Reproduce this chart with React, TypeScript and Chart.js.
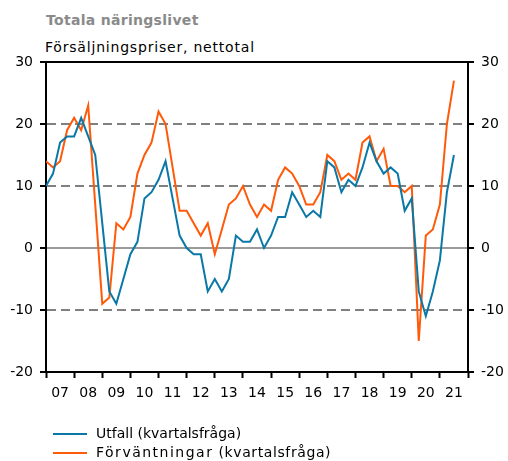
import React, { useEffect, useRef } from 'react';
import { Chart, registerables } from 'chart.js';

Chart.register(...registerables);

// Year tick labels (2007–2021); data are quarterly, starting 2007 Q1 (x = quarter index)
const yearLabels = ['07', '08', '09', '10', '11', '12', '13', '14', '15', '16', '17', '18', '19', '20', '21'];

// Utfall (kvartalsfråga), 2007Q1 .. 2021Q3
const utfall = [
  10, 12, 17, 18, 18, 21, 18, 15,
  4, -7, -9, -5, -1, 1, 8, 9,
  11, 14, 8, 2, 0, -1, -1, -7,
  -5, -7, -5, 2, 1, 1, 3, 0,
  2, 5, 5, 9, 7, 5, 6, 5,
  14, 13, 9, 11, 10, 13, 17, 14,
  12, 13, 12, 6, 8, -7, -11, -7,
  -2, 9, 15,
];

// Förväntningar (kvartalsfråga), 2007Q1 .. 2021Q3
const forvantningar = [
  14, 13, 14, 19, 21, 19, 23, 7,
  -9, -8, 4, 3, 5, 12, 15, 17,
  22, 20, 13, 6, 6, 4, 2, 4,
  -1, 3, 7, 8, 10, 7, 5, 7,
  6, 11, 13, 12, 10, 7, 7, 9,
  15, 14, 11, 12, 11, 17, 18, 14,
  16, 10, 10, 9, 10, -15, 2, 3,
  7, 20, 27,
];

const yTicks = [-20, -10, 0, 10, 20, 30];

const BLUE = '#0a78a6';
const ORANGE = '#ff5a0a';
const FONT = "'DejaVu Sans', Verdana, sans-serif";

export default function App() {
  const ref = useRef<HTMLCanvasElement | null>(null);

  useEffect(() => {
    if (!ref.current) return;
    const frame = {
      id: 'frame',
      beforeDatasetsDraw(chart: any) {
        const { ctx, chartArea: a } = chart;
        ctx.save();
        ctx.strokeStyle = '#000';
        ctx.lineWidth = 2;
        ctx.strokeRect(a.left, a.top, a.right - a.left, a.bottom - a.top);
        ctx.restore();
      },
    };

    const gridColor = (ctx: any) => {
      const v = ctx.tick ? ctx.tick.value : null;
      if (v === 0) return '#9a9a9a';
      if (v === 30 || v === -20) return 'rgba(0,0,0,0)';
      return '#808080';
    };

    const yCommon = (pos: 'left' | 'right', width: number, onChart: boolean) => ({
      type: 'linear' as const,
      position: pos,
      min: -20,
      max: 30,
      afterBuildTicks: (s: any) => {
        s.ticks = yTicks.map((v) => ({ value: v }));
      },
      afterFit: (s: any) => {
        s.width = width;
      },
      grid: {
        drawOnChartArea: onChart,
        color: gridColor,
        lineWidth: 2,
        tickColor: '#000',
        tickLength: 6,
        tickWidth: 2,
      },
      border: {
        display: true,
        color: '#000',
        width: 2,
        dash: (ctx: any) => (ctx.tick && ctx.tick.value === 0 ? [] : [9, 5]),
      },
      ticks: {
        padding: 7,
        color: '#000',
        font: { family: FONT, size: 14 },
        callback: (v: any) => String(v),
      },
    });

    const chart = new Chart(ref.current, {
      type: 'line',
      data: {
        datasets: [
          {
            label: 'Utfall (kvartalsfråga)',
            data: utfall.map((v, i) => ({ x: i, y: v })),
            borderColor: BLUE,
            backgroundColor: BLUE,
            borderWidth: 2,
            pointRadius: 0,
            tension: 0,
          },
          {
            label: 'Förväntningar (kvartalsfråga)',
            data: forvantningar.map((v, i) => ({ x: i, y: v })),
            borderColor: ORANGE,
            backgroundColor: ORANGE,
            borderWidth: 2,
            pointRadius: 0,
            tension: 0,
          },
        ],
      },
      options: {
        responsive: false,
        animation: false,
        devicePixelRatio: 1,
        layout: { padding: { top: 62, bottom: 59, left: 0, right: 0 } },
        plugins: {
          legend: { display: false },
          tooltip: { enabled: false },
        },
        scales: {
          x: {
            type: 'linear',
            position: 'bottom',
            min: 0,
            max: yearLabels.length * 4,
            afterBuildTicks: (s: any) => {
              const t = [];
              for (let k = 0; k <= yearLabels.length * 2; k++) t.push({ value: k * 2 });
              s.ticks = t;
            },
            afterFit: (s: any) => {
              s.height = 30;
            },
            grid: {
              drawOnChartArea: false,
              drawTicks: true,
              tickLength: 6,
              tickWidth: 2,
              tickColor: (ctx: any) =>
                ctx.tick && ctx.tick.value % 4 === 0 ? '#000' : 'rgba(0,0,0,0)',
            },
            border: { display: true, color: '#000', width: 2 },
            ticks: {
              autoSkip: false,
              maxRotation: 0,
              padding: 7,
              color: '#000',
              font: { family: FONT, size: 14 },
              callback: (v: any) => {
                const n = Number(v);
                if (n % 4 !== 2) return '';
                return yearLabels[(n - 2) / 4];
              },
            },
          },
          y: yCommon('left', 46, true),
          y2: yCommon('right', 40, false),
        } as any,
      },
      plugins: [frame],
    });
    return () => chart.destroy();
  }, []);

  return (
    <div style={{ position: 'absolute', left: 0, top: 0, width: 508, height: 461, background: '#fff', fontFamily: FONT }}>
      <div style={{ position: 'absolute', left: 46, top: 9, fontSize: 14, fontWeight: 'bold', color: '#8a8a8a', lineHeight: '22px', whiteSpace: 'nowrap', letterSpacing: '0.3px' }}>
        Totala näringslivet
      </div>
      <div style={{ position: 'absolute', left: 45, top: 36, fontSize: 14, color: '#000', lineHeight: '22px', whiteSpace: 'nowrap', letterSpacing: '0.8px' }}>
        Försäljningspriser, nettotal
      </div>
      <canvas ref={ref} width={508} height={461} style={{ position: 'absolute', left: 0, top: 0, width: 508, height: 461 }} />
      <div style={{ position: 'absolute', left: 53, top: 424, fontSize: 14, color: '#000', lineHeight: '19px' }}>
        <div style={{ display: 'flex', alignItems: 'center', whiteSpace: 'nowrap' }}>
          <span style={{ display: 'inline-block', width: 34, height: 2, background: BLUE, marginRight: 9 }} />
          Utfall (kvartalsfråga)
        </div>
        <div style={{ display: 'flex', alignItems: 'center', whiteSpace: 'nowrap' }}>
          <span style={{ display: 'inline-block', width: 34, height: 2, background: ORANGE, marginRight: 9 }} />
          <span style={{ letterSpacing: '1.5px' }}>Förväntningar</span>
          <span style={{ letterSpacing: '0.6px' }}>&nbsp;(kvartalsfråga)</span>
        </div>
      </div>
    </div>
  );
}
